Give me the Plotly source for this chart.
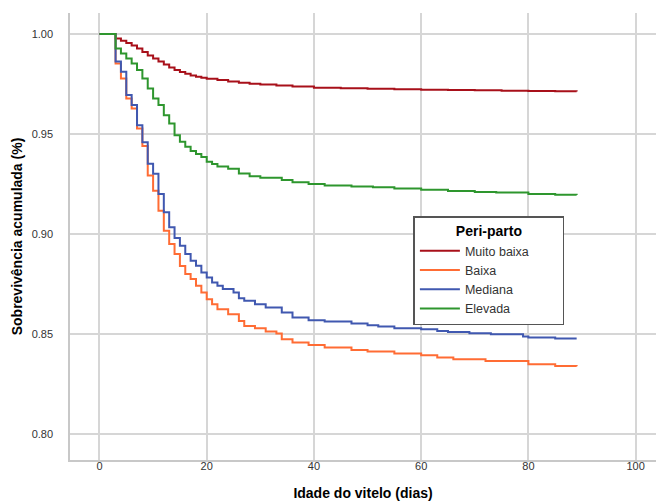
import plotly.graph_objects as go

# Kaplan-Meier survival steps (day, cumulative survival) per Peri-parto group
t_muito_baixa = [0, 3, 4, 5, 6, 7, 8, 9, 10, 11, 12, 13, 14, 15, 16, 17, 18, 19, 20,
                 22, 24, 26, 28, 30, 33, 36, 40, 45, 50, 55, 60, 65, 70, 75, 80, 85, 89]
s_muito_baixa = [1.0, 0.9977, 0.9966, 0.9955, 0.9942, 0.9928, 0.9910, 0.9893, 0.9877,
                 0.9862, 0.9847, 0.9833, 0.9820, 0.9810, 0.9801, 0.9793, 0.9787, 0.9782,
                 0.9777, 0.9770, 0.9763, 0.9757, 0.9752, 0.9748, 0.9743, 0.9738, 0.9732,
                 0.9729, 0.9726, 0.9724, 0.9722, 0.9720, 0.9719, 0.9717, 0.9715, 0.9714, 0.9713]

t_baixa = [0, 3, 4, 5, 6, 7, 8, 9, 10, 11, 12, 13, 14, 15, 16, 17, 18, 19, 20, 21, 22,
           24, 26, 27, 29, 31, 33, 34, 36, 39, 42, 47, 50, 55, 60, 63, 66, 72, 80, 85, 89]
s_baixa = [1.0, 0.9853, 0.9778, 0.9678, 0.9628, 0.9528, 0.9440, 0.9293, 0.9217, 0.9117,
           0.9017, 0.8950, 0.8900, 0.8840, 0.8800, 0.8775, 0.8742, 0.8708, 0.8675, 0.8650,
           0.8625, 0.8600, 0.8566, 0.8541, 0.8530, 0.8513, 0.8503, 0.8475, 0.8458, 0.8446,
           0.8433, 0.8421, 0.8413, 0.8403, 0.8395, 0.8383, 0.8375, 0.8366, 0.8350, 0.8341, 0.8340]

t_mediana = [0, 3, 4, 5, 6, 7, 8, 9, 10, 11, 12, 13, 14, 15, 16, 17, 18, 19, 20, 21, 22,
             23, 25, 26, 27, 29, 31, 34, 36, 39, 42, 47, 50, 52, 55, 60, 63, 65, 69, 73,
             79, 80, 85, 89]
s_mediana = [1.0, 0.9862, 0.9812, 0.9695, 0.9645, 0.9544, 0.9459, 0.9351, 0.9301, 0.9201,
             0.9109, 0.9034, 0.8980, 0.8942, 0.8900, 0.8867, 0.8842, 0.8808, 0.8783, 0.8758,
             0.8742, 0.8725, 0.8708, 0.8680, 0.8667, 0.8650, 0.8633, 0.8608, 0.8583, 0.8570,
             0.8563, 0.8553, 0.8545, 0.8538, 0.8530, 0.8525, 0.8516, 0.8511, 0.8505, 0.8500,
             0.8488, 0.8483, 0.8478, 0.8478]

t_elevada = [0, 3, 4, 5, 6, 7, 8, 9, 10, 11, 12, 13, 14, 15, 16, 17, 18, 19, 20, 21, 22,
             24, 26, 28, 30, 34, 36, 39, 42, 47, 51, 55, 60, 65, 70, 74, 80, 85, 89]
s_elevada = [1.0, 0.9928, 0.9903, 0.9878, 0.9853, 0.9820, 0.9778, 0.9728, 0.9678, 0.9645,
             0.9594, 0.9553, 0.9494, 0.9462, 0.9436, 0.9415, 0.9400, 0.9385, 0.9362, 0.9350,
             0.9338, 0.9326, 0.9303, 0.9289, 0.9282, 0.9270, 0.9259, 0.9250, 0.9243, 0.9238,
             0.9234, 0.9228, 0.9222, 0.9216, 0.9211, 0.9208, 0.9200, 0.9197, 0.9196]

group_names = ["Muito baixa", "Baixa", "Mediana", "Elevada"]
group_colors = ["#a8101a", "#ff6c34", "#4058b0", "#2e962e"]

x_ticks = [0, 20, 40, 60, 80, 100]
y_ticks = [0.80, 0.85, 0.90, 0.95, 1.00]

series = [(t_muito_baixa, s_muito_baixa), (t_baixa, s_baixa),
          (t_mediana, s_mediana), (t_elevada, s_elevada)]

fig = go.Figure()
for (t, s), name, col in zip(series, group_names, group_colors):
    fig.add_trace(go.Scatter(x=t, y=s, mode="lines", name=name,
                             line=dict(color=col, width=2, shape="hv")))

font_family = "Arial, Liberation Sans, sans-serif"
pad = "&nbsp;" * 10
fig.update_layout(
    width=656, height=501,
    margin=dict(l=70, r=0, t=13, b=41, autoexpand=False),
    paper_bgcolor="white", plot_bgcolor="white",
    font=dict(family=font_family, size=12, color="#333333"),
    showlegend=True,
    legend=dict(
        x=0.586, y=0.545, xanchor="left", yanchor="top",
        bgcolor="white", bordercolor="#555555", borderwidth=1.5,
        font=dict(size=12.5, color="#333333", family=font_family),
        title=dict(text=pad + "<b>Peri-parto</b>" + pad, side="top center",
                   font=dict(size=14, color="#000000", family=font_family)),
        tracegroupgap=0, itemwidth=40,
    ),
    xaxis=dict(
        range=[-5.5, 103.8], tickvals=x_ticks, ticktext=[str(v) for v in x_ticks],
        showgrid=True, gridcolor="#d6d6d6", gridwidth=1.5,
        zeroline=False, showline=True, linecolor="#c8c8c8", linewidth=1.5,
        ticks="", ticklabelstandoff=-5, automargin=False,
        tickfont=dict(size=11, color="#333333"),
        title=dict(text="<b>Idade do vitelo (dias)</b>", standoff=22,
                   font=dict(size=14, color="#000000")),
    ),
    yaxis=dict(
        range=[0.7871, 1.0105], tickvals=y_ticks, ticktext=["%.2f" % v for v in y_ticks],
        showgrid=True, gridcolor="#d6d6d6", gridwidth=1.5,
        zeroline=False, showline=True, linecolor="#c8c8c8", linewidth=1.5,
        ticks="", ticklabelstandoff=13, automargin=False,
        tickfont=dict(size=11, color="#333333"),
        title=dict(text="<b>Sobrevivência acumulada (%)</b>", standoff=6,
                   font=dict(size=14, color="#000000")),
    ),
)

fig.write_html("out.html")
